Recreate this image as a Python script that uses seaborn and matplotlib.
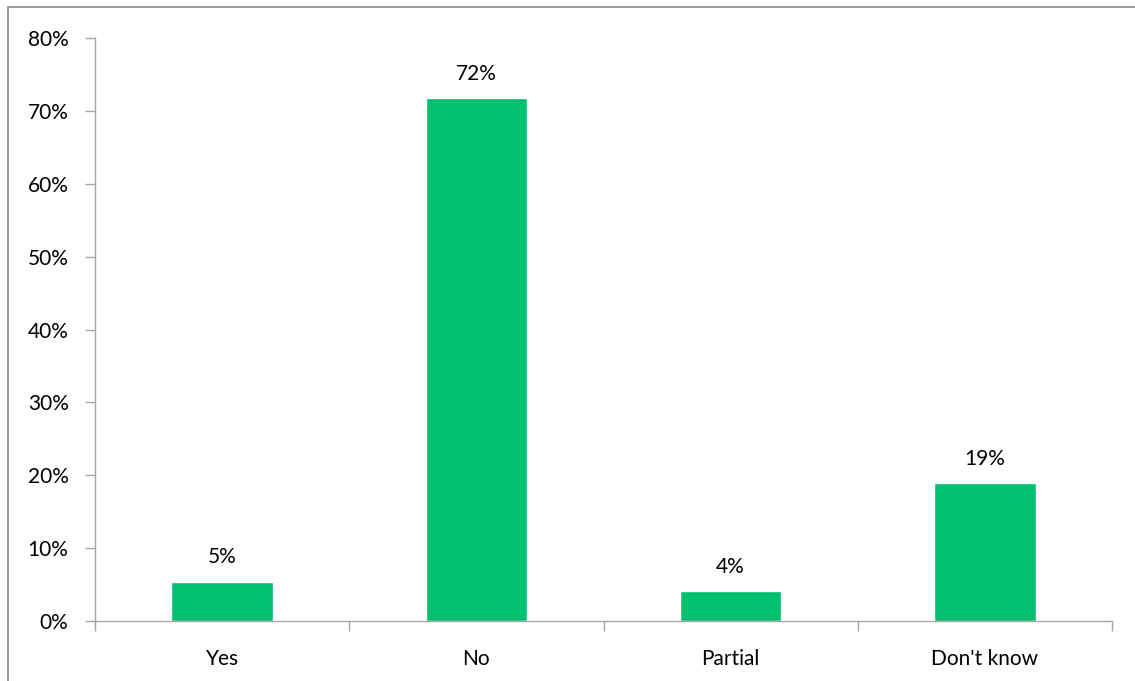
import matplotlib
matplotlib.use('Agg')
import pandas as pd
import seaborn as sns
import matplotlib.pyplot as plt
from matplotlib.lines import Line2D
from matplotlib.ticker import FixedLocator, PercentFormatter

categories = ['Yes', 'No', 'Partial', "Don't know"]
values = [5.4, 71.7, 4.1, 18.9]
labels = ['5%', '72%', '4%', '19%']

df = pd.DataFrame({'answer': categories, 'share': values})

sns.set_style('white')
plt.rcParams['font.family'] = ['Lato', 'DejaVu Sans']

fig = plt.figure(figsize=(11.35, 6.81), dpi=100)
ax = fig.add_axes([95 / 1135, 1 - 621 / 681, (1112 - 95) / 1135, (621 - 38) / 681])

sns.barplot(data=df, x='answer', y='share', color='#00BF6F', saturation=1,
            width=0.4, ax=ax)

for i, (v, lab) in enumerate(zip(values, labels)):
    ax.text(i, v + 2.0, lab, ha='center', va='bottom', fontsize=15, color='#000000')

ax.set_xlim(-0.5, 3.5)
ax.set_ylim(0, 80)
ax.set_yticks(range(0, 81, 10))
ax.yaxis.set_major_formatter(PercentFormatter(decimals=0))
ax.set_xlabel('')
ax.set_ylabel('')

ax.xaxis.set_minor_locator(FixedLocator([-0.5, 0.5, 1.5, 2.5, 3.5]))
ax.tick_params(axis='x', which='major', bottom=True, length=0, pad=20,
               labelsize=15, colors='#000000')
ax.tick_params(axis='x', which='minor', bottom=True, length=7, width=1,
               color='#A6A6A6', direction='out')
ax.tick_params(axis='y', left=True, length=7, width=1, color='#A6A6A6',
               direction='out', pad=12, labelsize=15, labelcolor='#000000')

for s in ['top', 'right']:
    ax.spines[s].set_visible(False)
for s in ['left', 'bottom']:
    ax.spines[s].set_color('#A6A6A6')
    ax.spines[s].set_linewidth(1)

# outer chart border (cropped at right and bottom)
fig.add_artist(Line2D([8 / 1135, 1], [1 - 7 / 681, 1 - 7 / 681],
                      transform=fig.transFigure, color='#888888', lw=1.2))
fig.add_artist(Line2D([8 / 1135, 8 / 1135], [0, 1 - 7 / 681],
                      transform=fig.transFigure, color='#888888', lw=1.2))

plt.savefig('out.png', dpi=100)
